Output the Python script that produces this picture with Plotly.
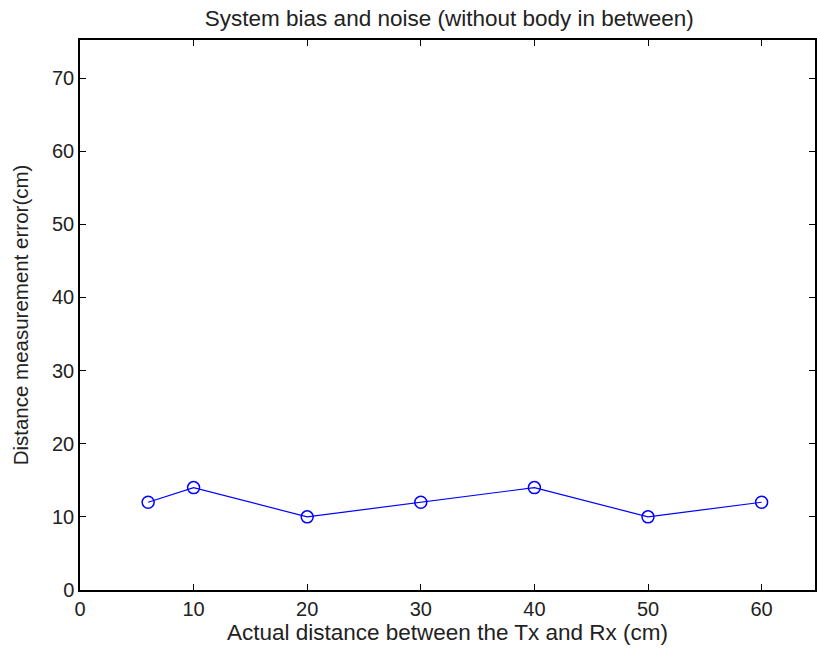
import plotly.graph_objects as go

x_vals = [6, 10, 20, 30, 40, 50, 60]
y_vals = [12, 14, 10, 12, 14, 10, 12]
x_ticks = [0, 10, 20, 30, 40, 50, 60]
y_ticks = [0, 10, 20, 30, 40, 50, 60, 70]

fig = go.Figure()
fig.add_trace(go.Scatter(
    x=x_vals, y=y_vals, mode="lines+markers",
    line=dict(color="#0000ff", width=1.2),
    marker=dict(symbol="circle-open", size=12, color="#0000ff", line=dict(width=1.5, color="#0000ff")),
    showlegend=False,
))

fam = "Liberation Sans, Arial, sans-serif"
fig.update_layout(
    width=817, height=649,
    margin=dict(l=80, r=0, t=40, b=59),
    paper_bgcolor="white", plot_bgcolor="white",
    font=dict(family=fam, size=20, color="#222"),
    title=dict(text="System bias and noise (without body in between)", x=0.55, xanchor="center",
               y=1 - 18 / 649, yanchor="middle", font=dict(size=22.5, family=fam, color="#222")),
    xaxis=dict(range=[0, 64.7], tickvals=x_ticks, ticks="inside", ticklen=6, tickcolor="#000",
               showline=True, linecolor="#000", linewidth=1.5, mirror="ticks", showgrid=False,
               zeroline=False, tickfont=dict(size=20),
               title=dict(text="Actual distance between the Tx and Rx (cm)", standoff=5,
                          font=dict(size=22.5))),
    yaxis=dict(range=[0, 75.2], tickvals=y_ticks, ticks="inside", ticklen=6, tickcolor="#000",
               showline=True, linecolor="#000", linewidth=1.5, mirror="ticks", showgrid=False,
               zeroline=False, tickfont=dict(size=20),
               title=dict(text="Distance measurement error(cm)", standoff=18, font=dict(size=20.5))),
)
fig.write_html("out.html")
